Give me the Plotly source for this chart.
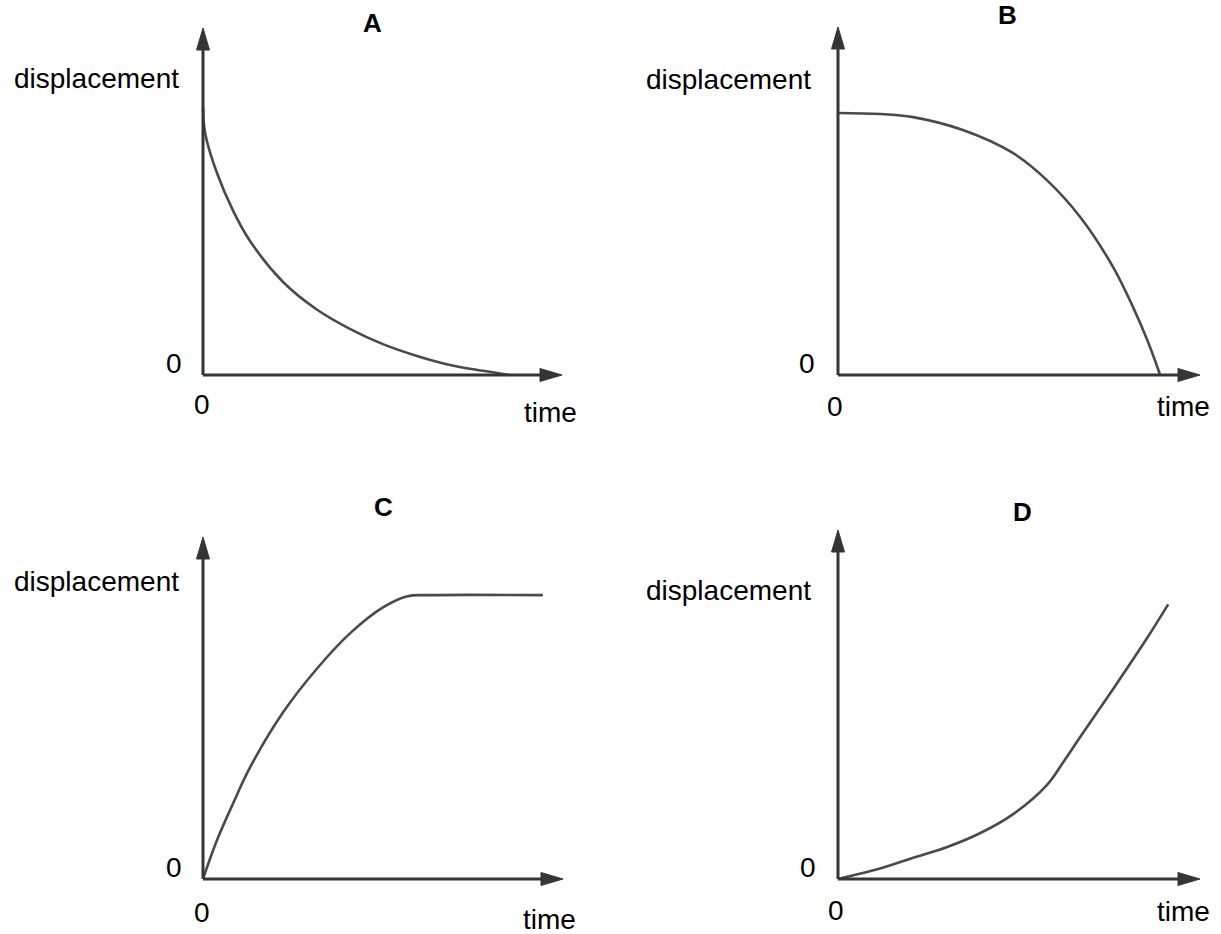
import plotly.graph_objects as go

W, H = 1221, 934

# ---- Data (units: 0..10 along each drawn axis) ----
a_time = [0, 0.06, 0.39, 0.84, 1.31, 2.23, 3.18, 4.09, 5.01, 5.96, 6.88, 7.80, 8.55]
a_disp = [7.72, 6.97, 5.82, 4.73, 3.86, 2.68, 1.88, 1.33, 0.89, 0.55, 0.29, 0.12, 0.0]

b_time = [0, 1.16, 2.07, 3.45, 4.83, 5.77, 6.69, 7.60, 8.15, 8.54, 8.90]
b_disp = [7.53, 7.50, 7.41, 7.04, 6.38, 5.60, 4.54, 3.10, 1.95, 1.01, 0.0]

c_time = [0, 0.39, 0.84, 1.31, 2.23, 3.18, 4.09, 5.01, 5.68, 6.30, 9.44]
c_disp = [0, 1.14, 2.22, 3.27, 4.88, 6.17, 7.19, 7.95, 8.27, 8.30, 8.30]

d_time = [0, 1.16, 2.08, 3.00, 3.92, 4.84, 5.77, 6.23, 6.69, 7.61, 8.53, 9.12]
d_disp = [0, 0.30, 0.61, 0.91, 1.31, 1.86, 2.69, 3.36, 4.07, 5.46, 6.89, 7.87]

panel_letters = ["A", "B", "C", "D"]
y_label = "displacement"
x_label = "time"
zero_label = "0"

# ---- Layout geometry (pixels): origin and arrow-tip positions of each panel ----
panels = [
    dict(ox=203, oy=375, tx=562, ty=28, t=a_time, d=a_disp,
         letter=(372, 23), ylab=(96, 79), zl=(174, 363), zb=(202, 405), tl=(550, 412)),
    dict(ox=838, oy=375, tx=1200, ty=27, t=b_time, d=b_disp,
         letter=(1008, 15), ylab=(728, 80), zl=(807, 363), zb=(835, 407), tl=(1183, 407)),
    dict(ox=203, oy=879, tx=563, ty=537, t=c_time, d=c_disp,
         letter=(383, 507), ylab=(96, 581), zl=(174, 867), zb=(202, 912), tl=(549, 919)),
    dict(ox=838, oy=879, tx=1200, ty=530, t=d_time, d=d_disp,
         letter=(1022, 512), ylab=(728, 590), zl=(808, 867), zb=(836, 910), tl=(1183, 911)),
]

LO, HI = -0.4, 10.3
FONT = "Liberation Sans, Arial, sans-serif"
AXC = "#353535"
CURVEC = "#4a4a4a"
HEAD_LEN, HEAD_HALF = 22.0, 6.5   # arrowhead size in pixels


def clamp(v):
    return max(0.0, min(1.0, v))


fig = go.Figure()
annotations = []
shapes = []
layout_axes = {}

for i, p in enumerate(panels):
    n = i + 1
    xs = (p["tx"] - p["ox"]) / 10.0
    ys = (p["oy"] - p["ty"]) / 10.0
    x0 = clamp((p["ox"] + LO * xs) / W)
    x1 = clamp((p["ox"] + HI * xs) / W)
    y0 = clamp(1 - (p["oy"] - LO * ys) / H)
    y1 = clamp(1 - (p["oy"] - HI * ys) / H)
    xa = "xaxis" if n == 1 else f"xaxis{n}"
    ya = "yaxis" if n == 1 else f"yaxis{n}"
    xr = "x" if n == 1 else f"x{n}"
    yr = "y" if n == 1 else f"y{n}"
    layout_axes[xa] = dict(domain=[x0, x1], range=[LO, HI], visible=False, anchor=yr, fixedrange=True)
    layout_axes[ya] = dict(domain=[y0, y1], range=[LO, HI], visible=False, anchor=xr, fixedrange=True)

    fig.add_trace(go.Scatter(
        x=p["t"], y=p["d"], mode="lines", xaxis=xr, yaxis=yr,
        line=dict(color=CURVEC, width=2.6, shape="spline", smoothing=1.0),
        hoverinfo="skip", showlegend=False))

    # axis lines
    hl_x = HEAD_LEN / xs
    hh_y = HEAD_HALF / ys
    hl_y = HEAD_LEN / ys
    hh_x = HEAD_HALF / xs
    shapes.append(dict(type="line", xref=xr, yref=yr, x0=0, y0=0, x1=10 - hl_x * 0.8, y1=0,
                       line=dict(color=AXC, width=3)))
    shapes.append(dict(type="line", xref=xr, yref=yr, x0=0, y0=0, x1=0, y1=10 - hl_y * 0.8,
                       line=dict(color=AXC, width=3)))
    # arrowheads
    shapes.append(dict(type="path", xref=xr, yref=yr,
                       path=f"M 10 0 L {10 - hl_x} {hh_y} L {10 - hl_x} {-hh_y} Z",
                       fillcolor=AXC, line=dict(color=AXC, width=1)))
    shapes.append(dict(type="path", xref=xr, yref=yr,
                       path=f"M 0 10 L {hh_x} {10 - hl_y} L {-hh_x} {10 - hl_y} Z",
                       fillcolor=AXC, line=dict(color=AXC, width=1)))

    def txt(s, pos, size=28, bold=False):
        annotations.append(dict(
            x=pos[0] / W, y=1 - pos[1] / H, xref="paper", yref="paper",
            text=f"<b>{s}</b>" if bold else s, showarrow=False,
            xanchor="center", yanchor="middle",
            font=dict(family=FONT, size=size, color="black")))

    txt(panel_letters[i], p["letter"], size=26, bold=True)
    txt(y_label, p["ylab"])
    txt(zero_label, p["zl"])
    txt(zero_label, p["zb"])
    txt(x_label, p["tl"])

fig.update_layout(
    width=W, height=H, margin=dict(l=0, r=0, t=0, b=0),
    paper_bgcolor="white", plot_bgcolor="white",
    annotations=annotations, shapes=shapes, showlegend=False, **layout_axes)

fig.write_html(
    "out.html", config={"displayModeBar": False},
    post_script="document.body.style.margin='0';document.body.style.overflow='hidden';")
